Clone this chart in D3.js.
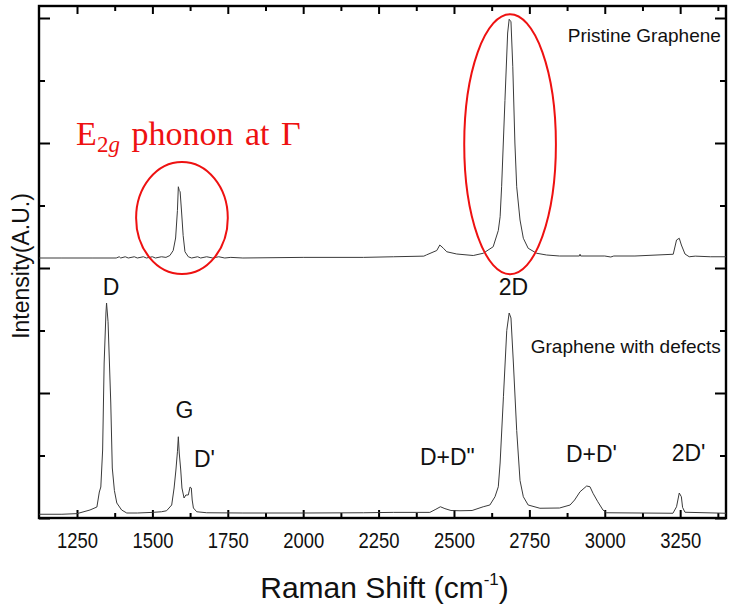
<!DOCTYPE html>
<html>
<head>
<meta charset="utf-8">
<script src="https://cdn.jsdelivr.net/npm/d3@7"></script>
<style>
  html, body { margin: 0; padding: 0; background: #fff; }
  svg { display: block; font-family: "Liberation Sans", Arial, sans-serif; }
</style>
</head>
<body>
<div id="chart"></div>
<script>
// spectra (Raman shift in cm-1, intensity in arbitrary units)
const pristineShift = [1124, 1200, 1300, 1380, 1390, 1395, 1410, 1420, 1440, 1450, 1470, 1480, 1500, 1510, 1530, 1545,
    1558, 1569, 1577, 1583, 1586, 1589, 1592, 1597, 1602, 1608, 1619, 1630, 1650, 1660, 1680, 1700, 1720, 1740, 1760,
    1800, 2000, 2200, 2300, 2400, 2409, 2443, 2453, 2465, 2476, 2509, 2564, 2597, 2630, 2647, 2653, 2658, 2669, 2678,
    2683, 2689, 2695, 2702, 2708, 2719, 2730, 2746, 2774, 2807, 2850, 2916, 2918, 2920, 3000, 3020, 3030, 3100, 3227,
    3238, 3247, 3254, 3266, 3280, 3300, 3350, 3402];
const pristineIntensity = [2.08, 2.08, 2.08, 2.08, 2.09, 2.08, 2.09, 2.08, 2.09, 2.08, 2.09, 2.08, 2.09, 2.08, 2.09, 2.085,
    2.10, 2.14, 2.24, 2.46, 2.65, 2.62, 2.61, 2.44, 2.26, 2.13, 2.09, 2.08, 2.09, 2.08, 2.09, 2.08, 2.09, 2.08, 2.085,
    2.08, 2.085, 2.085, 2.09, 2.095, 2.105, 2.14, 2.184, 2.158, 2.13, 2.112, 2.10, 2.118, 2.17, 2.30, 2.41, 2.65, 3.34, 3.88,
    3.99, 3.97, 3.61, 3.00, 2.65, 2.384, 2.238, 2.158, 2.118, 2.104, 2.096, 2.096, 2.11, 2.096, 2.096, 2.088, 2.096, 2.096, 2.11,
    2.224, 2.238, 2.184, 2.112, 2.09, 2.095, 2.09, 2.09];

const defectShift = [1124, 1200, 1250, 1293, 1316, 1324, 1329, 1335, 1340, 1346, 1348, 1353, 1362, 1367, 1374, 1382,
    1398, 1415, 1450, 1500, 1530, 1547, 1564, 1572, 1578, 1583, 1586, 1589, 1594, 1598, 1605, 1611, 1619, 1625, 1629,
    1632, 1636, 1647, 1680, 1800, 2000, 2200, 2300, 2420, 2440, 2455, 2470, 2490, 2520, 2560, 2597, 2619, 2636, 2647,
    2653, 2664, 2675, 2683, 2689, 2697, 2708, 2719, 2730, 2746, 2785, 2850, 2885, 2900, 2918, 2940, 2951, 2961, 2977,
    2994, 3006, 3226, 3238, 3247, 3254, 3258, 3266, 3402];
const defectIntensity = [0.03, 0.03, 0.035, 0.064, 0.088, 0.208, 0.248, 0.544, 1.24, 1.64, 1.72, 1.57, 0.92, 0.40, 0.22, 0.12,
    0.064, 0.04, 0.04, 0.045, 0.05, 0.058, 0.104, 0.24, 0.384, 0.53, 0.65, 0.52, 0.384, 0.24, 0.16, 0.184, 0.184, 0.248, 0.24,
    0.144, 0.08, 0.05, 0.042, 0.04, 0.04, 0.042, 0.045, 0.045, 0.07, 0.09, 0.075, 0.06, 0.058, 0.06, 0.09, 0.104, 0.17, 0.25,
    0.44, 0.97, 1.50, 1.64, 1.60, 1.24, 0.70, 0.30, 0.17, 0.104, 0.078, 0.08, 0.104, 0.144, 0.21, 0.256, 0.25, 0.198, 0.13,
    0.064, 0.042, 0.038, 0.09, 0.20, 0.17, 0.085, 0.046, 0.038];

const xTickValues = [1250, 1500, 1750, 2000, 2250, 2500, 2750, 3000, 3250];
const xMinorTickValues = [1375, 1625, 1875, 2125, 2375, 2625, 2875, 3125, 3375];
const yTickValues = [0, 1, 2, 3, 4];
const yMinorTickValues = [0.5, 1.5, 2.5, 3.5];

const peakLabels = ['D', 'G', "D'", '2D', 'D+D"', "D+D'", "2D'"];
const peakLabelShift = [1363, 1606, 1638, 2697, 2478, 2956, 3278];
const peakLabelIntensity = [1.784, 0.80, 0.408, 1.784, 0.424, 0.448, 0.456];

const seriesNames = ['Pristine Graphene', 'Graphene with defects'];
const seriesNameShift = [3385, 3385];
const seriesNameIntensity = [3.808, 1.32];

// red ellipses: centre and half extents in data units
const ringShift = [1598, 2686];
const ringIntensity = [2.40, 2.99];
const ringHalfShift = [152, 152];
const ringHalfIntensity = [0.448, 1.04];

const width = 729;
const height = 605;
const margin = {top: 6, right: 3, bottom: 87, left: 39};

const svg = d3.select('#chart')
    .append('svg')
    .attr('width', width)
    .attr('height', height);

const x = d3.scaleLinear().domain([1124, 3402]).range([margin.left, width - margin.right]);
const y = d3.scaleLinear().domain([0, 4.096]).range([height - margin.bottom, margin.top]);

// axes, ticks point inwards on all four sides
const addAxis = (axis, transform, cls) => {
    const g = svg.append('g').attr('class', cls).attr('transform', transform).call(axis);
    g.select('.domain').remove();
    g.selectAll('.tick line').attr('stroke', '#000').attr('stroke-width', 2);
    return g;
};

const xb = y(0);
const xt = margin.top;
const yl = margin.left;
const yr = width - margin.right;

const bottomAxis = addAxis(d3.axisBottom(x).tickValues(xTickValues).tickSize(-8).tickPadding(14).tickFormat(d3.format('d')),
    `translate(0,${xb})`, 'x-axis');
bottomAxis.selectAll('text')
    .attr('font-size', 22)
    .attr('fill', '#111')
    .attr('textLength', 41)
    .attr('lengthAdjust', 'spacingAndGlyphs');
addAxis(d3.axisBottom(x).tickValues(xMinorTickValues).tickSize(-5).tickFormat(''), `translate(0,${xb})`, 'x-minor');
addAxis(d3.axisTop(x).tickValues(xTickValues).tickSize(-8).tickFormat(''), `translate(0,${xt})`, 'x-top');
addAxis(d3.axisTop(x).tickValues(xMinorTickValues).tickSize(-5).tickFormat(''), `translate(0,${xt})`, 'x-top-minor');
addAxis(d3.axisLeft(y).tickValues(yTickValues).tickSize(-11).tickFormat(''), `translate(${yl},0)`, 'y-axis');
addAxis(d3.axisLeft(y).tickValues(yMinorTickValues).tickSize(-6).tickFormat(''), `translate(${yl},0)`, 'y-minor');
addAxis(d3.axisRight(y).tickValues(yTickValues).tickSize(-11).tickFormat(''), `translate(${yr},0)`, 'y-right');
addAxis(d3.axisRight(y).tickValues(yMinorTickValues).tickSize(-6).tickFormat(''), `translate(${yr},0)`, 'y-right-minor');

// frame
svg.append('rect')
    .attr('x', yl)
    .attr('y', xt)
    .attr('width', yr - yl)
    .attr('height', xb - xt)
    .attr('fill', 'none')
    .attr('stroke', '#000')
    .attr('stroke-width', 2.4);

// spectra
const line = d3.line()
    .x(d => x(d[0]))
    .y(d => y(d[1]));

const spectra = [
    d3.zip(pristineShift, pristineIntensity),
    d3.zip(defectShift, defectIntensity)
];

svg.selectAll('.spectrum')
    .data(spectra)
    .join('path')
    .attr('class', 'spectrum')
    .attr('d', line)
    .attr('fill', 'none')
    .attr('stroke', '#3a3a3a')
    .attr('stroke-width', 1)
    .attr('stroke-linejoin', 'round');

// peak names
svg.selectAll('.peak-label')
    .data(peakLabels)
    .join('text')
    .attr('class', 'peak-label')
    .attr('x', (d, i) => x(peakLabelShift[i]))
    .attr('y', (d, i) => y(peakLabelIntensity[i]))
    .attr('text-anchor', d => d === "D'" ? 'start' : 'middle')
    .attr('font-size', 23)
    .attr('fill', '#111')
    .text(d => d);

svg.selectAll('.series-name')
    .data(seriesNames)
    .join('text')
    .attr('class', 'series-name')
    .attr('x', (d, i) => x(seriesNameShift[i]))
    .attr('y', (d, i) => y(seriesNameIntensity[i]))
    .attr('text-anchor', 'end')
    .attr('font-size', 19)
    .attr('fill', '#111')
    .text(d => d);

// red ellipses round the G and 2D bands of the pristine sample
svg.selectAll('.ring')
    .data(ringShift)
    .join('ellipse')
    .attr('class', 'ring')
    .attr('cx', d => x(d))
    .attr('cy', (d, i) => y(ringIntensity[i]))
    .attr('rx', (d, i) => x(d + ringHalfShift[i]) - x(d))
    .attr('ry', (d, i) => y(0) - y(ringHalfIntensity[i]))
    .attr('fill', 'none')
    .attr('stroke', '#ee1111')
    .attr('stroke-width', 2);

const phonon = svg.append('text')
    .attr('x', x(1247))
    .attr('y', y(2.984))
    .attr('font-family', '"Liberation Serif", "Times New Roman", serif')
    .attr('font-size', 34)
    .attr('fill', '#ee1111')
    .attr('word-spacing', 3);
phonon.append('tspan').text('E');
phonon.append('tspan').attr('dy', 7).attr('font-size', 23).text('2');
phonon.append('tspan').attr('font-size', 23).attr('font-style', 'italic').text('g');
phonon.append('tspan').attr('dy', -7).text(' phonon at Γ');

// axis titles
const xTitle = svg.append('text')
    .attr('x', (yl + yr) / 2 + 2)
    .attr('y', 598)
    .attr('text-anchor', 'middle')
    .attr('font-size', 30)
    .attr('fill', '#111');
xTitle.append('tspan').text('Raman Shift (cm');
xTitle.append('tspan').attr('dy', -13).attr('font-size', 17).text('-1');
xTitle.append('tspan').attr('dy', 13).text(')');

svg.append('text')
    .attr('transform', `translate(29,${266}) rotate(-90)`)
    .attr('text-anchor', 'middle')
    .attr('font-size', 23)
    .attr('fill', '#111')
    .text('Intensity(A.U.)');
</script>
</body>
</html>
